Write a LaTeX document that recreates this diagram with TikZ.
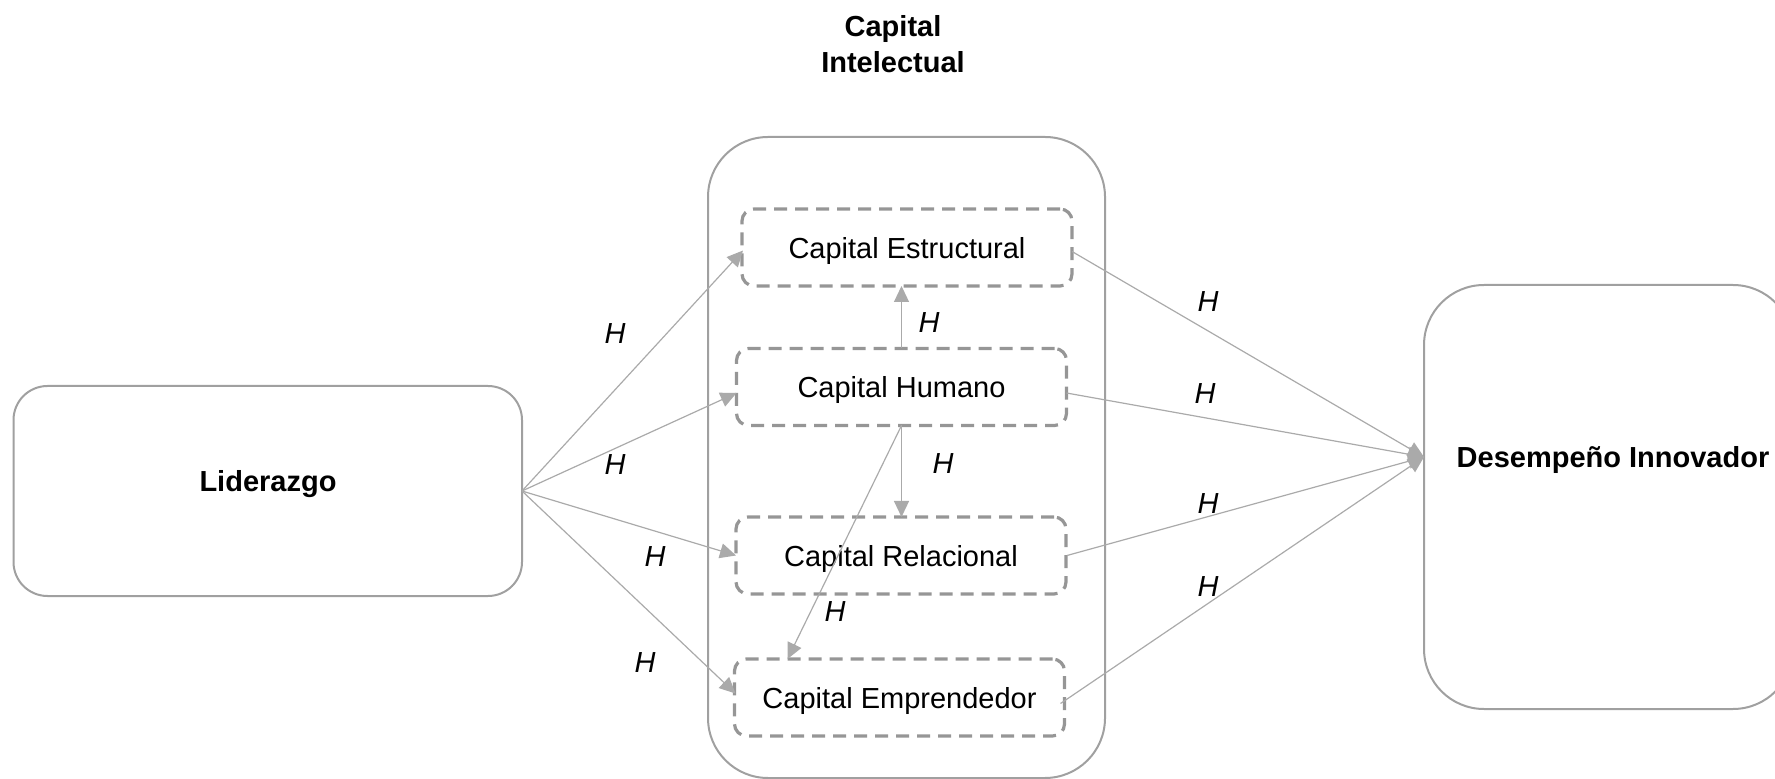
\documentclass[tikz,border=0pt]{standalone}
\usepackage{fontspec}
\setmainfont{Liberation Sans}
\usetikzlibrary{arrows.meta,calc}
\definecolor{boxgray}{RGB}{160,160,160}
\definecolor{dashgray}{RGB}{150,150,150}
\definecolor{linkgray}{RGB}{170,170,170}

\begin{document}
\begin{tikzpicture}[x=0.5pt,y=-0.5pt,
  txt/.style={font=\fontsize{14.5pt}{18pt}\selectfont, inner sep=0pt},
  btxt/.style={font=\fontsize{14.5pt}{18pt}\selectfont\bfseries, inner sep=0pt},
  hlab/.style={font=\fontsize{14.5pt}{18pt}\selectfont\itshape, inner sep=0pt},
  bigbox/.style={draw=boxgray, line width=1pt, inner sep=0pt, outer sep=0pt},
  dimbox/.style={draw=dashgray, line width=1.6pt, dash pattern=on 6.5pt off 4pt,
    rounded corners=6pt, minimum width=165pt, minimum height=38.5pt,
    inner sep=0pt, outer sep=0pt, txt, text depth=0pt},
  link/.style={draw=linkgray, line width=0.6pt, -{Triangle[length=8pt,width=7.5pt]}}
]
\path[use as bounding box, clip] (0,0) rectangle (1775,779);

% title
\node[btxt, align=center] (title) at (893,44.5) {Capital\\Intelectual};

% outer frames
\node[bigbox, rounded corners=17pt, minimum width=254.25pt, minimum height=105pt] (lid) at (267.75,491) {};
\node[btxt] (lidtxt) at (268,484) {Liderazgo};

\node[bigbox, rounded corners=30pt, minimum width=198.5pt, minimum height=320.5pt] (ci) at (906.5,457.5) {};

\node[bigbox, rounded corners=30pt, minimum width=184.5pt, minimum height=212pt] (des) at (1608.5,497) {};
\node[btxt] (destxt) at (1613,460) {Desempeño Innovador};

% dimensions of intellectual capital
\node[dimbox] (ce) at (907,247.5) {Capital Estructural};
\node[dimbox] (ch) at (901.5,387) {Capital Humano};
\node[dimbox] (cr) at (901,555.5) {Capital Relacional};
\node[dimbox] (cem) at (899.5,697.5) {Capital Emprendedor};

% leadership to each dimension
\draw[link] (lid.east) -- ($(ce.west)+(1,3)$);
\draw[link] (lid.east) -- ($(ch.west)+(0,6)$);
\draw[link] (lid.east) -- (cr.west);
\draw[link] (lid.east) -- ($(cem.west)+(1,-4)$);

% links between dimensions
\draw[link] (ch.north) -- (ch.north |- ce.south);
\draw[link] (ch.south) -- (ch.south |- cr.north);
\draw[link] (ch.south) -- ($(cem.north west)+(53,0)$);

% dimensions to innovative performance
\coordinate (dtip) at ($(des.north west)+(0,172)$);
\draw[link] ($(ce.east)+(0,4)$) -- (dtip);
\draw[link] ($(ch.east)+(0,6)$) -- (dtip);
\draw[link] ($(cr.east)+(1,0)$) -- (dtip);
\draw[link] ($(cem.east)+(-4,6)$) -- (dtip);

% hypothesis labels
\node[hlab] (h1) at (615,334) {H};
\node[hlab] (h2) at (615,465) {H};
\node[hlab] (h3) at (655,557) {H};
\node[hlab] (h4) at (645,663) {H};
\node[hlab] (h5) at (929,323) {H};
\node[hlab] (h6) at (943,464) {H};
\node[hlab] (h7) at (835,612) {H};
\node[hlab] (h8) at (1208,302) {H};
\node[hlab] (h9) at (1205,394) {H};
\node[hlab] (h10) at (1208,504) {H};
\node[hlab] (h11) at (1208,587) {H};
\end{tikzpicture}
\end{document}
